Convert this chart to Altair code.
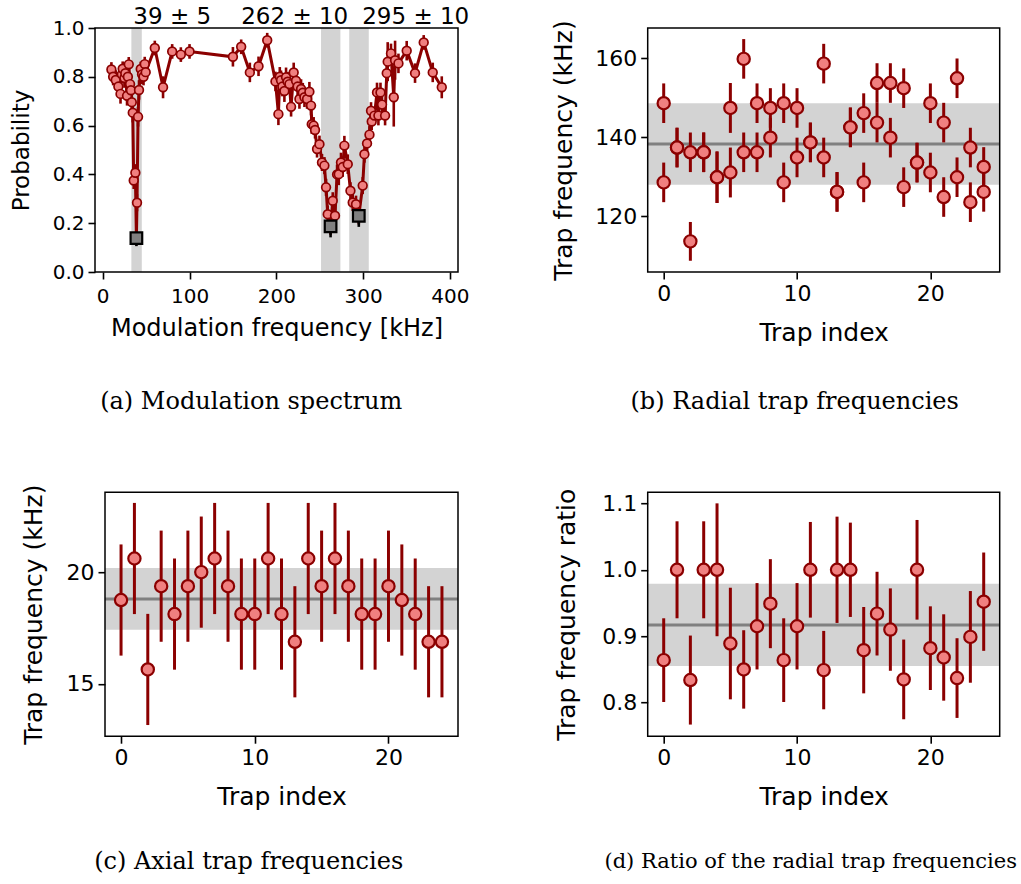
import altair as alt
import pandas as pd

# ---------------- data ----------------
# (a) modulation spectrum
a_freq = [10, 12, 15, 18, 20.5, 22, 23, 25, 26, 28, 29, 30, 31.5, 32.5, 33.5, 34.6, 35.7, 37.6, 38.8, 39.5,
          40.7, 41.8, 43.8, 45.3, 47, 48.4, 49.5, 60, 69.5, 80, 90, 100, 150, 159.5, 169.5, 179.5, 189.5,
          199, 202.4, 204, 205.4, 207, 209.3, 211.2, 213, 215.1, 217, 220, 222.7, 224.5, 226.6, 228.5,
          230.5, 232.4, 235.4, 238.1, 240, 240.8, 243, 244.6, 246.9, 249.7, 252.6, 255.4, 257.3, 259.2,
          262.5, 265, 267.6, 270, 271.9, 274.5, 276.5, 278.4, 282.3, 285.4, 288, 291.8, 295, 299.5, 301.5,
          304.5, 307.3, 309.1, 309.9, 313, 316, 317.6, 320, 321.8, 325.3, 327.2, 328.3, 332.1, 335.3,
          336.8, 340.7, 350.2, 359.8, 369.8, 380.2, 390.6]
a_prob = [0.830, 0.800, 0.787, 0.760, 0.730, 0.810, 0.833, 0.795, 0.815, 0.722, 0.800, 0.851, 0.770, 0.745,
          0.696, 0.653, 0.375, 0.407, 0.139, 0.284, 0.636, 0.746, 0.832, 0.810, 0.800, 0.852, 0.819, 0.918,
          0.757, 0.904, 0.891, 0.904, 0.882, 0.923, 0.818, 0.843, 0.950, 0.781, 0.647, 0.800, 0.786, 0.760,
          0.742, 0.798, 0.780, 0.770, 0.677, 0.818, 0.784, 0.760, 0.709, 0.750, 0.735, 0.716, 0.709, 0.739,
          0.682, 0.606, 0.600, 0.582, 0.504, 0.524, 0.449, 0.436, 0.347, 0.237, 0.187, 0.292, 0.231, 0.400,
          0.401, 0.449, 0.430, 0.518, 0.442, 0.333, 0.285, 0.278, 0.230, 0.354, 0.483, 0.527, 0.563, 0.661,
          0.617, 0.641, 0.736, 0.641, 0.736, 0.686, 0.641, 0.815, 0.862, 0.896, 0.716, 0.868, 0.855, 0.907,
          0.815, 0.941, 0.818, 0.757]
a_err = [0.030, 0.035, 0.040, 0.040, 0.040, 0.035, 0.030, 0.040, 0.035, 0.040, 0.035, 0.030, 0.040, 0.040,
         0.040, 0.040, 0.035, 0.035, 0.030, 0.035, 0.040, 0.040, 0.030, 0.040, 0.035, 0.030, 0.035, 0.030,
         0.045, 0.030, 0.030, 0.030, 0.040, 0.030, 0.040, 0.040, 0.030, 0.040, 0.045, 0.040, 0.040, 0.040,
         0.045, 0.040, 0.040, 0.040, 0.040, 0.040, 0.040, 0.040, 0.040, 0.040, 0.040, 0.040, 0.040, 0.040,
         0.040, 0.040, 0.035, 0.035, 0.035, 0.035, 0.035, 0.035, 0.035, 0.035, 0.035, 0.035, 0.035, 0.040,
         0.045, 0.040, 0.040, 0.040, 0.040, 0.035, 0.035, 0.035, 0.035, 0.035, 0.035, 0.035, 0.035, 0.035,
         0.035, 0.035, 0.040, 0.040, 0.040, 0.040, 0.040, 0.040, 0.080, 0.040, 0.120, 0.080, 0.040, 0.040,
         0.040, 0.030, 0.040, 0.045]
a_min_freq = [38.8, 262.5, 295.0]
a_min_prob = [0.139, 0.187, 0.230]
a_min_err = [0.033, 0.045, 0.045]
a_band_lo = [33.0, 251.5, 284.0]
a_band_hi = [45.0, 273.8, 306.5]
a_labels = ["39 ± 5", "262 ± 10", "295 ± 10"]

# (b) radial trap frequencies (two per trap)
trap_index = list(range(25))
b_first = [148.6, 137.4, 136.2, 136.2, 129.9, 147.4, 159.8, 148.6, 147.4, 148.6, 147.4, 138.7, 158.6,
           126.2, 142.5, 146.1, 153.7, 153.7, 152.4, 133.6, 148.6, 143.7, 154.9, 137.4, 132.5]
b_second = [128.6, 137.4, 113.7, 136.2, 129.9, 131.1, 136.2, 136.2, 139.9, 128.6, 134.9, 138.7, 134.9,
            126.2, 142.5, 128.6, 143.7, 139.9, 127.4, 133.6, 131.1, 124.9, 129.9, 123.6, 126.2]
b_err_first = [5.0, 5.0, 5.0, 5.0, 6.5, 6.3, 5.0, 5.0, 5.0, 5.0, 5.0, 5.0, 5.0,
               5.0, 5.0, 5.0, 5.0, 5.0, 5.0, 5.0, 5.0, 5.0, 5.0, 5.0, 5.0]
b_err_second = [5.0, 5.0, 4.9, 5.0, 6.5, 6.3, 5.0, 5.0, 5.0, 5.0, 5.0, 5.0, 5.0,
                5.0, 5.0, 5.0, 5.0, 5.0, 5.0, 5.0, 5.0, 5.0, 5.0, 5.0, 5.0]
b_mean, b_std = 138.3, 10.3

# (c) axial trap frequencies
c_vals = [18.75, 20.61, 15.64, 19.37, 18.12, 19.37, 20.0, 20.61, 19.37, 18.12, 18.12, 20.61, 18.12,
          16.88, 20.61, 19.37, 20.61, 19.37, 18.12, 18.12, 19.37, 18.75, 18.12, 16.88, 16.88]
c_err = [2.49] * 25
c_mean, c_std = 18.8, 1.38

# (d) ratio of the radial trap frequencies
d_vals = [0.864, 1.0, 0.834, 1.0, 1.0, 0.889, 0.850, 0.915, 0.949, 0.864, 0.915, 1.0, 0.849,
          1.0, 1.0, 0.879, 0.934, 0.910, 0.835, 1.0, 0.882, 0.868, 0.837, 0.899, 0.952]
d_err = [0.063, 0.073, 0.067, 0.073, 0.100, 0.084, 0.059, 0.065, 0.067, 0.063, 0.065, 0.072, 0.059,
         0.080, 0.071, 0.065, 0.063, 0.062, 0.060, 0.075, 0.063, 0.065, 0.060, 0.069, 0.074]
d_mean, d_std = 0.917, 0.062

captions = ["(a) Modulation spectrum", "(b) Radial trap frequencies",
            "(c) Axial trap frequencies", "(d) Ratio of the radial trap frequencies"]

# ---------------- styles ----------------
DARKRED = "#8b0000"
LIGHTCORAL = "#f08080"
LIGHTGREY = "#d3d3d3"
GREY = "#808080"
SANS = "DejaVu Sans"
SERIF = "DejaVu Serif"

A_W, A_H = 363, 244
B_W, B_H = 352, 244
C_W, C_H = 363, 244
C_SHIFT = 10
D_W, D_H = 352, 244


def mk_axis(**kw):
    base = dict(domain=False, grid=False, ticks=True, tickColor="black", tickWidth=1.6, tickSize=7,
                labelFont=SANS, labelColor="black", titleFont=SANS, titleColor="black",
                titleFontWeight="normal", labelPadding=4)
    base.update(kw)
    return alt.Axis(**base)


one = pd.DataFrame({"k": [0]})


def frame(x0, w, h):
    return alt.Chart(one).mark_rect(fillOpacity=0, stroke="black", strokeWidth=1.5).encode(
        x=alt.value(x0), x2=alt.value(w), y=alt.value(0), y2=alt.value(h))


def caption(text, cx, cy, size):
    return alt.Chart(pd.DataFrame({"t": [text]})).mark_text(
        font=SERIF, fontSize=size, color="black", align="center", baseline="middle").encode(
        x=alt.value(cx), y=alt.value(cy), text="t:N")


# ---------------- panel (a) ----------------
df_a = pd.DataFrame({"freq": a_freq, "prob": a_prob, "err": a_err})
df_amin = pd.DataFrame({"freq": a_min_freq, "prob": a_min_prob, "err": a_min_err})
df_band = pd.DataFrame({"lo": a_band_lo, "hi": a_band_hi})
df_lab = pd.DataFrame({"t": a_labels, "px": [77.2, 199.7, 320.7]})

xs_a = alt.Scale(domain=[-8.9, 409.3], nice=False, zero=False)
ys_a = alt.Scale(domain=[0, 1], nice=False, zero=False)
xa_a = mk_axis(values=[0, 100, 200, 300, 400], title="Modulation frequency [kHz]",
               labelFontSize=20, titleFontSize=24, titlePadding=10, labelPadding=7)
ya_a = mk_axis(values=[0, 0.2, 0.4, 0.6, 0.8, 1.0], format=".1f", title="Probability",
               labelFontSize=20, titleFontSize=23, titlePadding=19)

a_bands = alt.Chart(df_band).mark_rect(color=LIGHTGREY).encode(
    x=alt.X("lo:Q", scale=xs_a, axis=xa_a), x2="hi:Q", y=alt.value(0), y2=alt.value(A_H))
a_errs = alt.Chart(df_a).transform_calculate(
    lo="datum.prob - datum.err", hi="datum.prob + datum.err").mark_rule(
    color=DARKRED, strokeWidth=2.6).encode(
    x=alt.X("freq:Q", scale=xs_a, axis=xa_a), y=alt.Y("lo:Q", scale=ys_a, axis=ya_a), y2="hi:Q")
a_line = alt.Chart(df_a).mark_line(color=DARKRED, strokeWidth=3).encode(
    x=alt.X("freq:Q", scale=xs_a, axis=xa_a), y=alt.Y("prob:Q", scale=ys_a, axis=ya_a))
a_pts = alt.Chart(df_a).mark_circle(color=LIGHTCORAL, stroke=DARKRED, strokeWidth=1.7, size=76,
                                    opacity=1).encode(
    x=alt.X("freq:Q", scale=xs_a, axis=xa_a), y=alt.Y("prob:Q", scale=ys_a, axis=ya_a))
a_sq_err = alt.Chart(df_amin).transform_calculate(
    lo="datum.prob - datum.err", hi="datum.prob").mark_rule(color="black", strokeWidth=2.6).encode(
    x=alt.X("freq:Q", scale=xs_a, axis=xa_a), y=alt.Y("lo:Q", scale=ys_a, axis=ya_a), y2="hi:Q")
a_sq = alt.Chart(df_amin).mark_square(color=GREY, stroke="black", strokeWidth=2.2, size=135,
                                      opacity=1).encode(
    x=alt.X("freq:Q", scale=xs_a, axis=xa_a), y=alt.Y("prob:Q", scale=ys_a, axis=ya_a))
a_ann = alt.Chart(df_lab).mark_text(font=SANS, fontSize=23, color="black", align="center",
                                    baseline="alphabetic").encode(
    x=alt.X("px:Q", scale=None), y=alt.value(-4.5), text="t:N")

panel_a = alt.layer(a_bands, a_errs, a_line, a_pts, a_sq_err, a_sq, a_ann, frame(0, A_W, A_H),
                    caption(captions[0], 156.2, 373.5, 24)).properties(width=A_W, height=A_H)


# ---------------- scatter panels (b, c, d) ----------------
def scatter_panel(df, xs, ys, xax, yax, mean, std, x0, w, h, cap, cap_x, cap_y, cap_size):
    dfm = pd.DataFrame({"lo": [mean - std], "hi": [mean + std], "m": [mean]})
    band = alt.Chart(dfm).mark_rect(color=LIGHTGREY).encode(
        x=alt.value(x0), x2=alt.value(w), y=alt.Y("lo:Q", scale=ys, axis=yax), y2="hi:Q")
    mline = alt.Chart(dfm).mark_rule(color=GREY, strokeWidth=3).encode(
        x=alt.value(x0), x2=alt.value(w), y=alt.Y("m:Q", scale=ys, axis=yax))
    errs = alt.Chart(df).transform_calculate(
        lo="datum.v - datum.e", hi="datum.v + datum.e").mark_rule(color=DARKRED, strokeWidth=3).encode(
        x=alt.X("i:Q", scale=xs, axis=xax), y=alt.Y("lo:Q", scale=ys, axis=yax), y2="hi:Q")
    pts = alt.Chart(df).mark_circle(color=LIGHTCORAL, stroke=DARKRED, strokeWidth=2.2, size=150,
                                    opacity=1).encode(
        x=alt.X("i:Q", scale=xs, axis=xax), y=alt.Y("v:Q", scale=ys, axis=yax))
    return alt.layer(band, mline, errs, pts, frame(x0, w, h),
                     caption(cap, cap_x, cap_y, cap_size)).properties(width=w, height=h)


xs_b = alt.Scale(domain=[-1.2, 25.2], nice=False, zero=False)
xs_c = alt.Scale(domain=[-1.2 - C_SHIFT * 26.4 / (C_W - C_SHIFT), 25.2], nice=False, zero=False)

# (b)
df_b = pd.DataFrame({"i": trap_index + trap_index, "v": b_first + b_second, "e": b_err_first + b_err_second})
ys_b = alt.Scale(domain=[105.96, 167.6], nice=False, zero=False)
xa_b = mk_axis(values=[0, 10, 20], title="Trap index", labelFontSize=22, titleFontSize=25, titlePadding=16)
ya_b = mk_axis(values=[120, 140, 160], title="Trap frequency (kHz)", labelFontSize=22, titleFontSize=25,
               titlePadding=18)
panel_b = scatter_panel(df_b, xs_b, ys_b, xa_b, ya_b, b_mean, b_std, 0, B_W, B_H, captions[1], 147, 373.5,
                        24)

# (c)
df_c = pd.DataFrame({"i": trap_index, "v": c_vals, "e": c_err})
ys_c = alt.Scale(domain=[12.65, 23.58], nice=False, zero=False)
xa_c = mk_axis(values=[0, 10, 20], title="Trap index", labelFontSize=22, titleFontSize=25, titlePadding=16,
               titleX=C_SHIFT + (C_W - C_SHIFT) / 2)
ya_c = mk_axis(values=[15, 20], title="Trap frequency (kHz)", labelFontSize=22, titleFontSize=25,
               titlePadding=20, offset=-C_SHIFT)
panel_c = scatter_panel(df_c, xs_c, ys_c, xa_c, ya_c, c_mean, c_std, C_SHIFT, C_W, C_H, captions[2],
                        153.7, 369.3, 24)

# (d)
df_d = pd.DataFrame({"i": trap_index, "v": d_vals, "e": d_err})
ys_d = alt.Scale(domain=[0.7495, 1.1168], nice=False, zero=False)
xa_d = mk_axis(values=[0, 10, 20], title="Trap index", labelFontSize=22, titleFontSize=25, titlePadding=16)
ya_d = mk_axis(values=[0.8, 0.9, 1.0, 1.1], format=".1f", title="Trap frequency ratio", labelFontSize=22,
               titleFontSize=25, titlePadding=22)
panel_d = scatter_panel(df_d, xs_b, ys_d, xa_d, ya_d, d_mean, d_std, 0, D_W, D_H, captions[3], 163, 369.3,
                        21)

chart = alt.concat(panel_a, panel_b, panel_c, panel_d, columns=2,
                   spacing={"row": 220.2, "column": 189.7}, bounds="flush").properties(
    padding={"left": 9, "top": 5, "right": 0, "bottom": 0}
).configure(background="white", view=alt.ViewConfig(stroke="transparent"))

chart.save("out.html", embed_options={"renderer": "svg", "actions": False})
